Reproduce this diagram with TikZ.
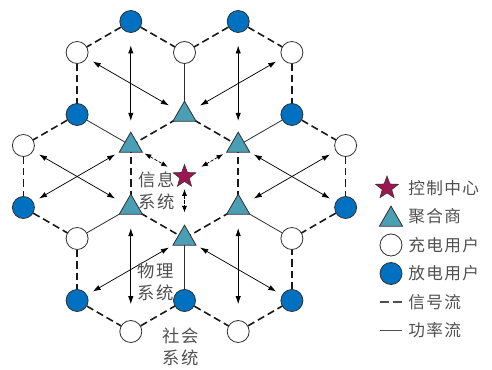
\documentclass[tikz,border=0pt]{standalone}
\usepackage{fontspec}
\newfontfamily\cjk{Noto Sans CJK SC}[LetterSpace=8]
\usetikzlibrary{shapes.geometric,arrows.meta,backgrounds}
\definecolor{disc}{HTML}{0070C0}
\definecolor{aggr}{HTML}{4A9FB5}
\definecolor{ctrl}{HTML}{9E1650}
\definecolor{txt}{HTML}{505050}
\definecolor{edge}{HTML}{303030}
\tikzset{
  chg/.style={circle, draw=edge, line width=0.6pt, fill=white, minimum size=16.5pt, inner sep=0pt},
  dis/.style={circle, draw=edge, line width=0.6pt, fill=disc, minimum size=16.5pt, inner sep=0pt},
  agg/.style={regular polygon, regular polygon sides=3, draw=edge, line width=0.6pt, fill=aggr, minimum size=20pt, inner sep=0pt},
  ctr/.style={star, star points=5, star point ratio=2.4, draw=edge, line width=0.4pt, fill=ctrl, minimum size=18pt, inner sep=0pt},
  sig/.style={line width=1.2pt, dash pattern=on 5.5pt off 3pt, draw=black!90},
  pow/.style={line width=0.6pt, draw=edge},
  biarrow/.style={line width=0.55pt, draw=black, {Latex[length=6pt,width=4pt]}-{Latex[length=6pt,width=4pt]}},
  sigarrow/.style={line width=0.55pt, draw=black, dash pattern=on 2.5pt off 1.2pt, {Latex[length=5pt,width=3.8pt]}-{Latex[length=5pt,width=3.8pt]}},
  lbl/.style={font=\cjk\fontsize{13pt}{16.5pt}\selectfont, text=txt, align=center, inner sep=0pt},
  leg/.style={font=\cjk\fontsize{12.5pt}{15pt}\selectfont, text=txt, anchor=west, inner sep=0pt},
}
\begin{document}
\begin{tikzpicture}[x=0.75pt,y=-0.75pt]
\useasboundingbox (0,0) rectangle (492,370);
\def\xa{23.4}\def\xb{77.1}\def\xc{130.8}\def\xd{184.5}\def\xe{238.2}\def\xf{291.9}\def\xg{345.6}
\node[dis] (F1) at (\xc,21.5) {};
\node[dis] (F2) at (\xe,21.5) {};
\node[dis] (F3) at (\xb,114.5) {};
\node[dis] (F4) at (\xf,114.5) {};
\node[dis] (F5) at (\xa,207.5) {};
\node[dis] (F6) at (\xg,207.5) {};
\node[dis] (F7) at (\xb,300.5) {};
\node[dis] (F8) at (\xd,300.5) {};
\node[dis] (F9) at (\xf,300.5) {};
\node[chg] (W1) at (\xb,52.5) {};
\node[chg] (W2) at (\xd,52.5) {};
\node[chg] (W3) at (\xf,52.5) {};
\node[chg] (W4) at (\xa,145.5) {};
\node[chg] (W5) at (\xg,145.5) {};
\node[chg] (W6) at (\xb,238.5) {};
\node[chg] (W7) at (\xf,238.5) {};
\node[chg] (W8) at (\xc,331.5) {};
\node[chg] (W9) at (\xe,331.5) {};
\node[agg] (T1) at (\xd,114.5) {};
\node[agg] (T2) at (\xc,145.5) {};
\node[agg] (T3) at (\xe,145.5) {};
\node[agg] (T4) at (\xc,207.5) {};
\node[agg] (T5) at (\xe,207.5) {};
\node[agg] (T6) at (\xd,238.5) {};
\node[ctr] (S) at (\xd,176.5) {};
\begin{pgfonlayer}{background}
\foreach \a/\b in {F1/W1,F1/W2,W1/F3,F2/W2,F2/W3,W3/F4,T2/T1,T1/T3,F3/W4,W4/F5,F5/W6,T2/T4,F4/W5,W5/F6,F6/W7,T3/T5,W6/F7,F7/W8,W8/F8,T4/T6,F8/W9,W9/F9,F9/W7,T6/T5}
  \draw[sig] (\a.center) -- (\b.center);
\foreach \a/\b in {W2/T1,F3/T2,F4/T3,W6/T4,W7/T5,F8/T6}
  \draw[pow] (\a.center) -- (\b.center);
\end{pgfonlayer}
% vertical bidirectional arrows (shorten in pt; 1px = 0.75pt)
\draw[biarrow, shorten <=18pt, shorten >=18.5pt] (F1.center) -- (T2.center);
\draw[biarrow, shorten <=18pt, shorten >=18.5pt] (F2.center) -- (T3.center);
\draw[biarrow, shorten <=15.5pt, shorten >=20.5pt] (T4.center) -- (W8.center);
\draw[biarrow, shorten <=15.5pt, shorten >=20.5pt] (T5.center) -- (W9.center);
% diagonal bidirectional arrows
\foreach \a/\b in {W1/T1,T1/W3,W4/T4,T2/F5,T3/F6,W5/T5,T6/F7,T6/F9}
  \draw[biarrow, shorten <=13.5pt, shorten >=13.5pt] (\a.center) -- (\b.center);
% control centre links
\draw[sigarrow, shorten <=12pt, shorten >=14.5pt] (T2.center) -- (S.center);
\draw[sigarrow, shorten <=13pt, shorten >=14.5pt] (T3.center) -- (S.center);
\draw[sigarrow, shorten <=9.5pt, shorten >=19.5pt] (S.center) -- (T6.center);
% labels
\node[lbl] (L1) at (157,191) {信息\\系统};
\node[lbl] (L2) at (156,282) {物理\\系统};
\node[lbl] (L3) at (181,347) {社会\\系统};
% legend
\node[ctr] (ks) at (387,188) {};
\node[leg] (kst) at (408,188) {控制中心};
\node[agg] (kt) at (391,219.5) {};
\node[leg] (ktt) at (408,216.5) {聚合商};
\node[chg] (kc) at (391,245) {};
\node[leg] (kct) at (408,245) {充电用户};
\node[dis] (kd) at (391,273.5) {};
\node[leg] (kdt) at (408,273.5) {放电用户};
\coordinate (ka1) at (380,302);
\coordinate (ka2) at (402,302);
\draw[line width=1.1pt, draw=txt, dash pattern=on 7pt off 2.5pt] (ka1) -- (ka2);
\node[leg] (kat) at (408,302) {信号流};
\coordinate (kb1) at (380,330);
\coordinate (kb2) at (402,330);
\draw[line width=0.6pt, draw=txt] (kb1) -- (kb2);
\node[leg] (kbt) at (408,330) {功率流};
\end{tikzpicture}
\end{document}
